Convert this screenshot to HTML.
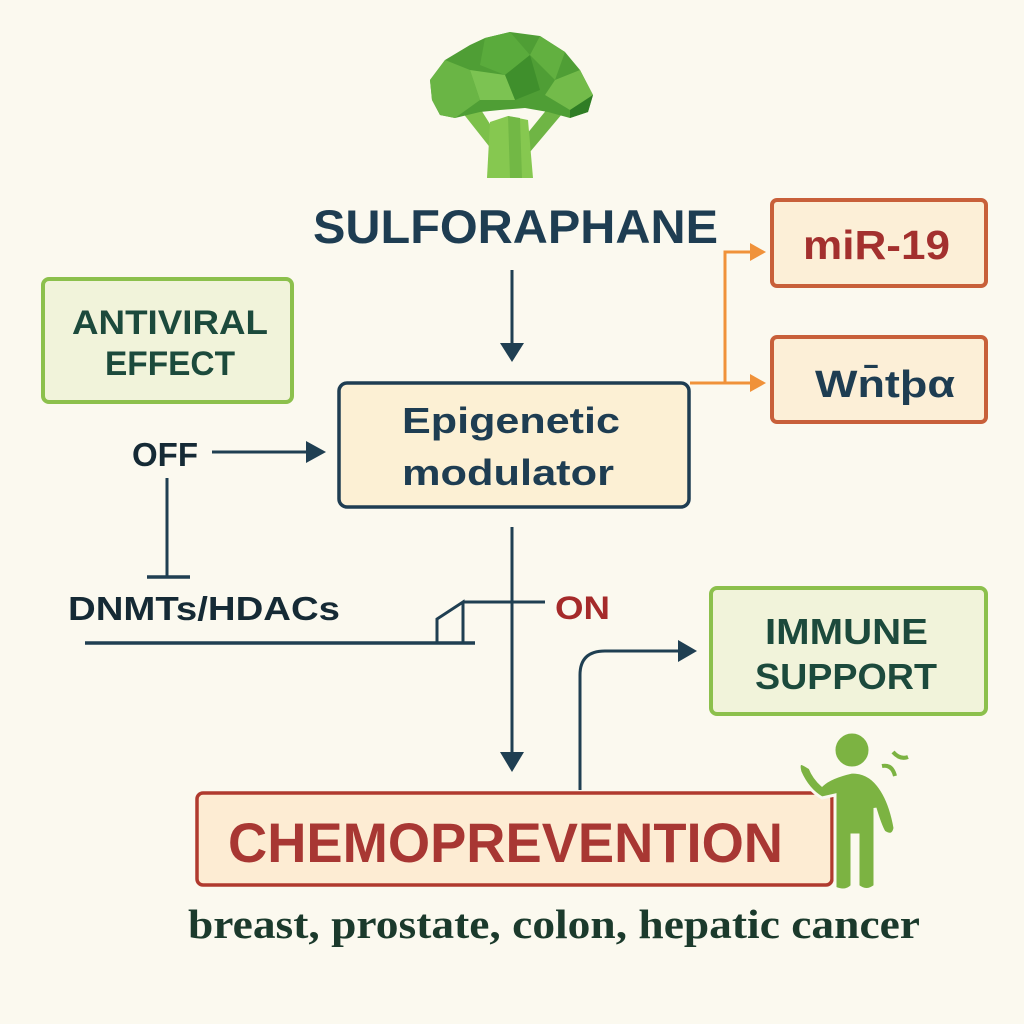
<!DOCTYPE html>
<html><head><meta charset="utf-8"><style>
html,body{margin:0;padding:0;background:#fbf9ef;}
svg{display:block}
text{font-family:"Liberation Sans",sans-serif;font-weight:bold}
</style></head><body>
<svg width="1024" height="1024" viewBox="0 0 1024 1024" xmlns="http://www.w3.org/2000/svg">
<rect width="1024" height="1024" fill="#fbf9ef"/>
<!-- broccoli -->
<g>
<polygon points="462,112 478,105 500,140 492,150" fill="#7cc04a"/>
<polygon points="548,108 562,114 530,152 522,140" fill="#6fb545"/>
<polygon points="490,122 508,116 528,120 533,178 487,178" fill="#86c850"/>
<polygon points="508,116 520,118 522,178 510,178" fill="#72b845"/>
<polygon points="430,80 445,60 470,45 485,38 510,32 540,36 565,52 580,70 593,95 588,112 570,118 548,112 525,108 500,110 480,112 455,118 440,115 432,100" fill="#4f9e35"/>
<polygon points="430,80 445,60 470,70 480,100 455,118 440,115 432,100" fill="#6ab545"/>
<polygon points="485,38 510,32 530,55 505,75 480,65" fill="#5aab3c"/>
<polygon points="505,75 530,55 540,90 515,100" fill="#3f8f2c"/>
<polygon points="540,36 565,52 555,80 530,55" fill="#62b040"/>
<polygon points="555,80 580,70 593,95 570,110 545,95" fill="#73bb4a"/>
<polygon points="470,70 505,75 515,100 480,100" fill="#7cc352"/>
<polygon points="570,110 593,95 588,112 570,118" fill="#2f7d25"/>
</g>
<text x="313" y="243" font-size="47" fill="#1e3d52" textLength="405" lengthAdjust="spacingAndGlyphs">SULFORAPHANE</text>
<line x1="512" y1="270" x2="512" y2="345" stroke="#1f3f52" stroke-width="3"/>
<path d="M500,343 L512,362 L524,343 Z" fill="#1f3f52"/>
<rect x="43" y="279" width="249" height="123" rx="6" fill="#f1f3da" stroke="#8cc04c" stroke-width="4"/>
<text x="72" y="334" font-size="34" fill="#1c4a3c" textLength="196" lengthAdjust="spacingAndGlyphs">ANTIVIRAL</text>
<text x="105" y="375" font-size="34" fill="#1c4a3c" textLength="130" lengthAdjust="spacingAndGlyphs">EFFECT</text>
<rect x="339" y="383" width="350" height="124" rx="8" fill="#fcf0d4" stroke="#1e3d52" stroke-width="3.5"/>
<text x="402" y="433" font-size="36" fill="#1e3d52" textLength="218" lengthAdjust="spacingAndGlyphs">Epigenetic</text>
<text x="402" y="485" font-size="36" fill="#1e3d52" textLength="212" lengthAdjust="spacingAndGlyphs">modulator</text>
<text x="132" y="466" font-size="33" fill="#152a35" textLength="66" lengthAdjust="spacingAndGlyphs">OFF</text>
<line x1="212" y1="452" x2="310" y2="452" stroke="#1f3f52" stroke-width="3"/>
<path d="M306,441 L326,452 L306,463 Z" fill="#1f3f52"/>
<line x1="167" y1="478" x2="167" y2="577" stroke="#1f3f52" stroke-width="3"/>
<line x1="147" y1="577" x2="190" y2="577" stroke="#1f3f52" stroke-width="3.5"/>
<text x="68" y="620" font-size="33" fill="#152a35" textLength="272" lengthAdjust="spacingAndGlyphs">DNMTs/HDACs</text>
<line x1="85" y1="643" x2="475" y2="643" stroke="#1f3f52" stroke-width="3.5"/>
<polyline points="437,643 437,619 463,602 463,643" fill="none" stroke="#1f3f52" stroke-width="3"/>
<line x1="463" y1="602" x2="545" y2="602" stroke="#1f3f52" stroke-width="3"/>
<line x1="512" y1="527" x2="512" y2="755" stroke="#1f3f52" stroke-width="3"/>
<path d="M500,752 L512,772 L524,752 Z" fill="#1f3f52"/>
<text x="555" y="619" font-size="32" fill="#a52a2a" textLength="55" lengthAdjust="spacingAndGlyphs">ON</text>
<polyline points="690,383 725,383 725,252 752,252" fill="none" stroke="#f0923a" stroke-width="3"/>
<line x1="725" y1="383" x2="752" y2="383" stroke="#f0923a" stroke-width="3"/>
<path d="M750,243 L766,252 L750,261 Z" fill="#f0923a"/>
<path d="M750,374 L766,383 L750,392 Z" fill="#f0923a"/>
<rect x="772" y="200" width="214" height="86" rx="5" fill="#fcefd7" stroke="#c8603a" stroke-width="4"/>
<text x="803" y="259" font-size="41" fill="#a3302e" textLength="147" lengthAdjust="spacingAndGlyphs">miR-19</text>
<rect x="772" y="337" width="214" height="85" rx="5" fill="#fcefd7" stroke="#c8603a" stroke-width="4"/>
<text x="815" y="397" font-size="38" fill="#1e3d52" textLength="140" lengthAdjust="spacingAndGlyphs">Wn̄tþα</text>
<rect x="711" y="588" width="275" height="126" rx="6" fill="#f1f3da" stroke="#8cc04c" stroke-width="4"/>
<text x="765" y="644" font-size="36" fill="#1c4a3c" textLength="163" lengthAdjust="spacingAndGlyphs">IMMUNE</text>
<text x="755" y="689" font-size="36" fill="#1c4a3c" textLength="182" lengthAdjust="spacingAndGlyphs">SUPPORT</text>
<path d="M580,790 V675 Q580,651 605,651 H682" fill="none" stroke="#1f3f52" stroke-width="3"/>
<path d="M678,640 L697,651 L678,662 Z" fill="#1f3f52"/>
<rect x="197" y="793" width="635" height="92" rx="6" fill="#fdecd3" stroke="#b03a2e" stroke-width="3.5"/>
<text x="228" y="862" font-size="56" fill="#a83733" textLength="555" lengthAdjust="spacingAndGlyphs">CHEMOPREVENTION</text>
<text x="188" y="938" font-size="41" fill="#1b3a2c" textLength="732" lengthAdjust="spacingAndGlyphs" style="font-family:'Liberation Serif',serif;font-weight:bold">breast, prostate, colon, hepatic cancer</text>
<g fill="#7cb342" stroke="#fbf9ef" stroke-width="3">
<path d="M805,765 Q797,760 800,772 Q808,790 822,798 L835,795 L835,860 L835,888 Q845,893 852,886 L852,835 L858,835 L858,886 Q866,893 875,886 L875,808 Q880,825 884,832 Q893,838 895,828 Q890,800 878,785 Q868,772 852,772 Q830,777 822,785 Q814,778 810,768 Z"/>
<circle cx="852" cy="750" r="18"/>
</g>
<path d="M893,752 Q900,760 908,757" fill="none" stroke="#7cb342" stroke-width="4"/>
<path d="M882,766 Q892,764 895,776" fill="none" stroke="#7cb342" stroke-width="4"/>
</svg>
</body></html>
